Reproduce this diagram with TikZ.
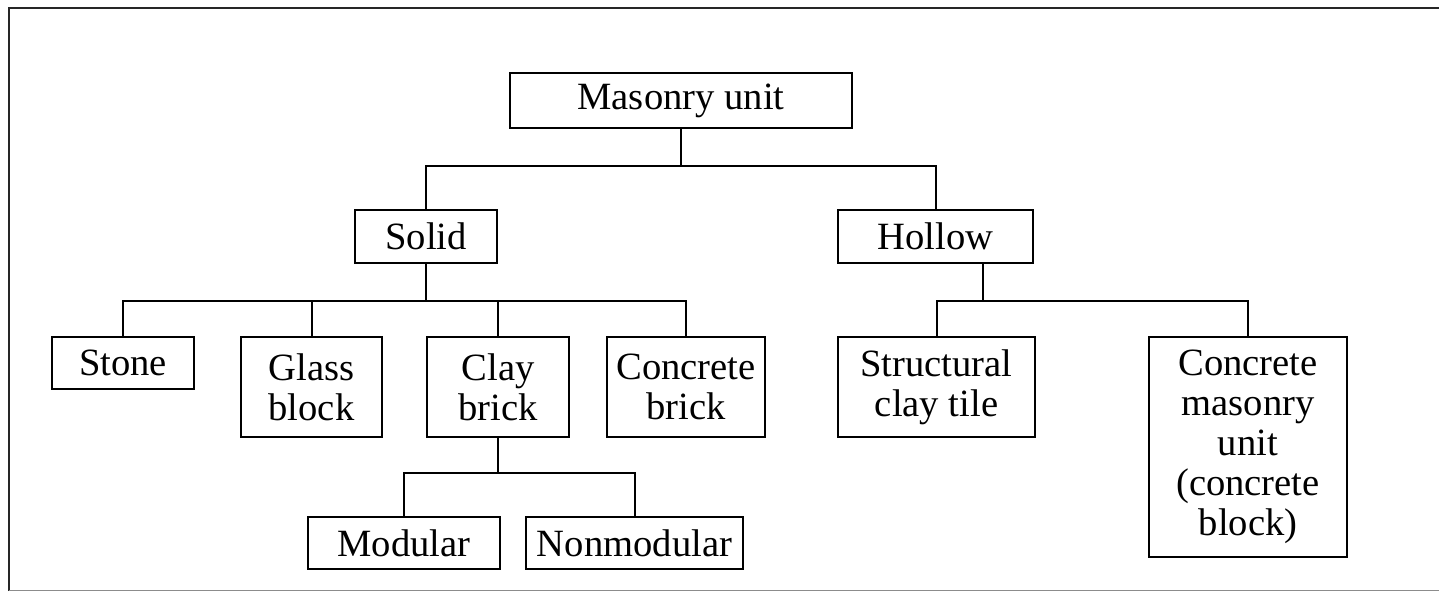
\documentclass[tikz,border=0pt]{standalone}
\usepackage{fontspec}
\setmainfont{Liberation Serif}
\begin{document}
\begin{tikzpicture}[x=0.5pt,y=-0.5pt,
  box/.style={draw=black,line width=1pt,inner sep=0pt,align=center,
    font=\fontsize{19.3}{20}\selectfont},
  conn/.style={draw=black,line width=1pt},
  frameline/.style={line width=1pt}]
\useasboundingbox (0,0) rectangle (1439,592);
% frame
\draw[frameline,black!85] (9,591) -- (9,8) -- (1439,8);
\draw[line width=0.8pt,black!45] (9,590.5) -- (1439,590.5);
% nodes
\node[box,minimum width=171pt,minimum height=27.5pt] (mu) at (681,100.5) {Masonry unit};
\node[box,minimum width=71pt,minimum height=26.5pt] (solid) at (426,236.5) {Solid};
\node[box,minimum width=97.5pt,minimum height=26.5pt] (hollow) at (935.5,236.5) {Hollow};
\node[box,minimum width=71pt,minimum height=26pt] (stone) at (123,363) {Stone};
\node[box,minimum width=70.5pt,minimum height=50pt] (glass) at (311.5,387) {Glass\\block};
\node[box,minimum width=71pt,minimum height=50pt] (clay) at (498,387) {Clay\\brick};
\node[box,minimum width=79pt,minimum height=50pt] (cbrick) at (686,387) {Concrete\\brick};
\node[box,minimum width=98.5pt,minimum height=50pt] (sct) at (936.5,387) {Structural\\clay tile};
\node[box,minimum width=99pt,minimum height=110pt] (cmu) at (1248,447) {Concrete\\masonry\\unit\\(concrete\\block)};
\node[box,minimum width=96pt,minimum height=26pt] (mod) at (404,543) {Modular};
\node[box,minimum width=108.5pt,minimum height=26pt] (nonmod) at (634.5,543) {Nonmodular};
% junctions
\coordinate (j1) at (681,166);
\coordinate (j2) at (426,301);
\coordinate (j3) at (983,301);
\coordinate (j4) at (498,473);
% connectors
\draw[conn] (mu.south) -- (j1);
\draw[conn] (solid.north) |- (j1) -| (hollow.north);
\draw[conn] (solid.south) -- (j2);
\draw[conn] (stone.north) |- (j2) -| (cbrick.north);
\draw[conn] (glass.north) -- (glass.north |- j2);
\draw[conn] (clay.north) -- (clay.north |- j2);
\draw[conn] (j3 |- hollow.south) -- (j3);
\draw[conn] (sct.north) |- (j3) -| (cmu.north);
\draw[conn] (clay.south) -- (j4);
\draw[conn] (mod.north) |- (j4) -| (nonmod.north);
\end{tikzpicture}
\end{document}
